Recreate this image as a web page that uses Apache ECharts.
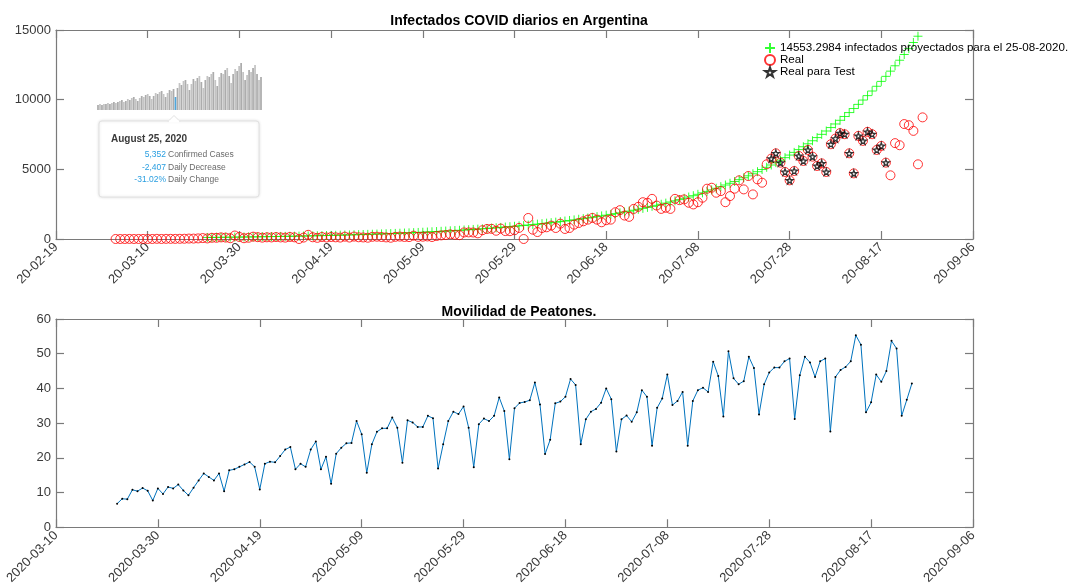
<!DOCTYPE html>
<html>
<head>
<meta charset="utf-8">
<script src="https://cdn.jsdelivr.net/npm/echarts@6/dist/echarts.min.js"></script>
<style>
  html, body { margin: 0; padding: 0; background: #fff; }
  #main { width: 1074px; height: 587px; }
</style>
</head>
<body>
<div id="main"></div>
<script>
// ---- datos ----
var topOrigin = '2020-02-19';
var bottomOrigin = '2020-03-10';

var projName = '14553.2984 infectados proyectados para el 25-08-2020.';
var projStart = '2020-03-23';
var projValues = [
    110, 114, 118, 122, 126, 130, 134, 138, 142, 147,
    152, 157, 162, 167, 172, 177, 183, 189, 195, 201,
    207, 214, 221, 228, 235, 242, 250, 258, 266, 275,
    284, 293, 302, 312, 322, 332, 343, 354, 365, 377,
    389, 401, 414, 427, 441, 455, 470, 485, 501, 517,
    534, 551, 569, 587, 606, 625, 645, 666, 687, 709,
    732, 755, 779, 804, 830, 857, 884, 912, 941, 971,
    1002, 1034, 1067, 1101, 1136, 1172, 1209, 1248, 1288, 1329,
    1372, 1416, 1461, 1508, 1556, 1606, 1657, 1710, 1765, 1821,
    1879, 1939, 2001, 2065, 2131, 2199, 2269, 2342, 2417, 2494,
    2574, 2656, 2741, 2829, 2920, 3013, 3109, 3208, 3311, 3417,
    3526, 3639, 3755, 3875, 3999, 4127, 4259, 4395, 4536, 4681,
    4831, 4986, 5146, 5311, 5481, 5656, 5837, 6024, 6217, 6416,
    6621, 6833, 7052, 7278, 7511, 7751, 7999, 8255, 8519, 8792,
    9073, 9363, 9663, 9972, 10291, 10620, 10960, 11311, 11673, 12047,
    12432, 12830, 13241, 13665, 14102, 14553
];

var realStart = '2020-03-03';
var realValues = [
    // marzo (3-31)
    1, 0, 1, 6, 1, 3, 5, 2, 2, 12, 3, 11, 11, 9, 14, 18, 31, 30, 43, 67,
    41, 86, 86, 115, 101, 55, 250, 146, 55,
    // abril
    88, 167, 132, 96, 121, 112, 140, 113, 98, 145, 119, 0, 101, 300, 124,
    82, 143, 109, 143, 119, 102, 167, 104, 172, 123, 111, 91, 158, 164, 144,
    // mayo
    114, 89, 155, 172, 146, 136, 240, 153, 165, 182, 143, 216, 258, 285, 333,
    302, 274, 470, 474, 467, 407, 631, 720, 730, 592, 747, 569, 561, 629, 795, 0,
    // junio
    1510, 670, 500, 790, 840, 960, 790, 1100, 720, 790, 1030, 1150, 1270, 1390, 1510,
    1390, 1200, 1350, 1390, 1920, 2070, 1680, 1590, 2160, 2310, 2640, 2600, 2880, 2400, 2160,
    // julio
    2240, 2160, 2880, 2790, 2840, 2600, 2480, 2640, 2960, 3610, 3680, 3320, 3440, 2640, 3080,
    3610, 4210, 3560, 4520, 3200, 4280, 4040, 5360, 5770, 6150, 5480, 4810, 4210, 4880, 5960, 5600,
    // agosto (1-26)
    6390, 5910, 5240, 5430, 4810, 6800, 7210, 7600, 7520, 6150, 4710, 7400, 7040,
    7690, 7520, 6390, 6680, 5480, 4570, 6880, 6730, 8250, 8170, 7760, 5360, 8730
];

// tramo usado para test
var testStart = '2020-07-24';
var testEnd = '2020-08-18';

var topTicks = { min: 0, max: 200, interval: 20 };
var topYTicks = { min: 0, max: 15000, interval: 5000 };

var mobStart = '2020-03-22';
var mobValues = [
    6.8, 8.2, 8.1, 10.8, 10.4, 11.3, 10.5, 7.7, 11.2, 9.6,
    11.6, 11.2, 12.3, 10.6, 9.2, 11.4, 13.5, 15.5, 14.5, 13.5,
    15.5, 10.4, 16.4, 16.7, 17.4, 18.1, 18.8, 17.4, 10.9, 18.3,
    18.9, 18.7, 20.5, 22.4, 23.1, 16.7, 18.3, 17.4, 22.4, 24.7,
    16.7, 20.3, 12.5, 21.2, 22.9, 24.2, 24.3, 30.6, 26.8, 15.7,
    23.9, 27.5, 28.5, 28.5, 31.6, 28.7, 18.6, 30.8, 30.2, 28.9,
    28.9, 32.1, 31.4, 16.9, 23.9, 30.6, 33.3, 32.6, 34.8, 28.7,
    17.3, 29.7, 31.3, 30.6, 32.1, 37.4, 33.5, 19.6, 34.3, 35.8,
    36.1, 36.6, 41.7, 35.4, 21.1, 25.2, 35.7, 36.2, 37.6, 42.7,
    41.0, 23.9, 31.1, 33.3, 34.1, 35.9, 40.0, 36.9, 21.8, 31.1,
    32.2, 30.4, 33.1, 39.5, 37.6, 23.5, 34.4, 37.1, 44.0, 35.2,
    36.4, 39.0, 23.5, 36.4, 39.5, 40.2, 39.0, 47.7, 43.6, 31.9,
    50.7, 42.9, 41.2, 42.1, 49.1, 45.9, 32.5, 41.2, 44.6, 46.0,
    46.0, 47.8, 48.6, 31.2, 43.8, 49.1, 47.5, 43.3, 47.8, 48.6,
    27.6, 43.3, 45.3, 46.2, 47.8, 55.3, 52.6, 33.1, 36.0, 44.0,
    41.9, 45.0, 53.7, 51.5, 32.1, 36.7, 41.4
];
var bottomTicks = { min: 0, max: 180, interval: 20 };
var bottomYTicks = { min: 0, max: 60, interval: 10 };

// recorte pegado (captura con barras y tooltip)
var insetBars = [
    5, 6, 5, 6, 6, 7, 6, 7, 8, 7, 8, 9, 10, 8, 9, 11, 10, 12, 13, 11,
    9, 12, 14, 13, 15, 16, 14, 11, 14, 17, 16, 18, 19, 16, 13, 17, 20, 19, 21,
    13,
    22, 27, 25, 29, 30, 26, 20, 26, 31, 29, 32, 34, 28, 22, 30, 34, 33, 36, 38, 30,
    24, 33, 37, 36, 40, 42, 34, 27, 36, 41, 39, 44, 47, 38, 30, 35, 40, 38, 42, 45,
    36, 30, 33
];
var insetHighlight = 39;
var insetDate = 'August 25, 2020';
var insetRows = [
    ['5,352', 'Confirmed Cases'],
    ['-2,407', 'Daily Decrease'],
    ['-31.02%', 'Daily Change']
];

// ---- helpers ----
var DAY = 864e5;
function dayOf(dateStr, origin) {
    return Math.round((Date.parse(dateStr) - Date.parse(origin)) / DAY);
}
function dateLabel(origin, d, shortYear) {
    var t = new Date(Date.parse(origin) + d * DAY);
    var y = String(t.getUTCFullYear());
    var m = ('0' + (t.getUTCMonth() + 1)).slice(-2);
    var dd = ('0' + t.getUTCDate()).slice(-2);
    return (shortYear ? y.slice(2) : y) + '-' + m + '-' + dd;
}
function toPoints(values, start, origin) {
    var d0 = dayOf(start, origin);
    return values.map(function (v, i) { return [d0 + i, v]; });
}

var realData = toPoints(realValues, realStart, topOrigin);
var t0 = dayOf(testStart, topOrigin), t1 = dayOf(testEnd, topOrigin);
var testData = realData.filter(function (p) { return p[0] >= t0 && p[0] <= t1; });
var projData = toPoints(projValues, projStart, topOrigin);
var mobData = toPoints(mobValues, mobStart, bottomOrigin);

var plusPath = 'path://M50,0 L50,100 M0,50 L100,50';
var starPath = 'path://M50,0 L61,35 L98,35 L68,57 L79,91 L50,70 L21,91 L32,57 L2,35 L39,35 Z';

var FONT = '"Liberation Sans", Arial, Helvetica, sans-serif';
var axisColor = '#7a7a7a';
var labelColor = '#3a3a3a';

function frameAxis(gridIndex, pos, scale, extra) {
    var ax = {
        type: 'value',
        gridIndex: gridIndex,
        position: pos,
        min: scale.min,
        max: scale.max,
        interval: scale.interval,
        axisLine: { show: true, onZero: false, lineStyle: { color: axisColor, width: 1.2 } },
        axisTick: { show: true, inside: true, length: 8, lineStyle: { color: axisColor, width: 1.2 } },
        axisLabel: { show: false },
        splitLine: { show: false }
    };
    for (var k in extra) ax[k] = extra[k];
    return ax;
}

var dom = document.getElementById('main');
var myChart = echarts.init(dom, null, { renderer: 'canvas' });

var option = {
    backgroundColor: '#FFFFFF',
    animation: false,
    textStyle: { fontFamily: FONT },
    title: [{
        text: 'Infectados COVID diarios en Argentina',
        left: 514, top: 9, textAlign: 'center',
        textStyle: { fontSize: 14, fontWeight: 'bold', color: '#000', fontFamily: FONT }
    }, {
        text: 'Movilidad de Peatones.',
        left: 514, top: 300, textAlign: 'center',
        textStyle: { fontSize: 14, fontWeight: 'bold', color: '#000', fontFamily: FONT }
    }],
    grid: [
        { left: 56, top: 30, width: 917, height: 209 },
        { left: 56, top: 319, width: 917, height: 211 },
        { left: 97, top: 62, width: 165, height: 48 }
    ],
    legend: {
        orient: 'vertical',
        left: 759, top: 37,
        itemGap: 0, itemWidth: 10, itemHeight: 10, itemTextGap: 9,
        textStyle: { fontSize: 11.6, color: '#000', lineHeight: 10.5, fontFamily: FONT },
        data: [
            { name: projName, icon: plusPath },
            { name: 'Real', icon: 'circle' },
            { name: 'Real para Test', icon: starPath }
        ]
    },
    xAxis: [
        frameAxis(0, 'bottom', topTicks, {
            axisLabel: {
                show: true, rotate: 45, margin: 6, fontSize: 13, color: labelColor,
                formatter: function (v) { return dateLabel(topOrigin, v, true); }
            }
        }),
        frameAxis(0, 'top', topTicks),
        frameAxis(1, 'bottom', bottomTicks, {
            axisLabel: {
                show: true, rotate: 45, margin: 6, fontSize: 13, color: labelColor,
                formatter: function (v) { return dateLabel(bottomOrigin, v, false); }
            }
        }),
        frameAxis(1, 'top', bottomTicks),
        {
            type: 'category', gridIndex: 2, show: false,
            data: insetBars.map(function (v, i) { return i; })
        }
    ],
    yAxis: [
        frameAxis(0, 'left', topYTicks, {
            axisLabel: { show: true, margin: 5, fontSize: 13, color: labelColor,
                formatter: function (v) { return String(v); } }
        }),
        frameAxis(0, 'right', topYTicks),
        frameAxis(1, 'left', bottomYTicks, {
            axisLabel: { show: true, margin: 5, fontSize: 13, color: labelColor,
                formatter: function (v) { return String(v); } }
        }),
        frameAxis(1, 'right', bottomYTicks),
        { type: 'value', gridIndex: 2, show: false, min: 0, max: 48 }
    ],
    series: [
        {
            name: projName, type: 'scatter', xAxisIndex: 0, yAxisIndex: 0,
            symbol: plusPath, symbolSize: 9,
            itemStyle: { color: 'rgba(0,0,0,0)', borderColor: '#00ff00', borderWidth: 1 },
            data: projData
        },
        {
            name: 'Real', type: 'scatter', xAxisIndex: 0, yAxisIndex: 0,
            symbol: 'circle', symbolSize: 9,
            itemStyle: { color: 'rgba(0,0,0,0)', borderColor: '#ff0000', borderWidth: 1 },
            data: realData
        },
        {
            name: 'Real para Test', type: 'scatter', xAxisIndex: 0, yAxisIndex: 0,
            symbol: starPath, symbolSize: 7,
            itemStyle: { color: 'rgba(0,0,0,0)', borderColor: '#000000', borderWidth: 1.2 },
            data: testData
        },
        {
            name: 'Movilidad', type: 'line', xAxisIndex: 2, yAxisIndex: 2,
            symbol: 'circle', symbolSize: 2, showSymbol: true,
            itemStyle: { color: '#000000' },
            lineStyle: { color: '#0072BD', width: 1 },
            data: mobData
        },
        {
            name: 'inset', type: 'bar', xAxisIndex: 4, yAxisIndex: 4,
            barCategoryGap: '12%',
            data: insetBars.map(function (v, i) {
                return { value: v, itemStyle: { color: i === insetHighlight ? '#4ea6dc' : (i % 2 ? '#c4c4c4' : '#acacac') } };
            })
        }
    ],
    graphic: [
        {
            type: 'group', z: 100,
            children: [
                {
                    type: 'rect',
                    shape: { x: 99, y: 121, width: 160, height: 76, r: 3 },
                    style: { fill: '#ffffff', stroke: '#e2e2e2', lineWidth: 1, shadowBlur: 3, shadowColor: 'rgba(0,0,0,0.12)' }
                },
                {
                    type: 'polygon',
                    shape: { points: [[168, 121.5], [174, 115.5], [180, 121.5]] },
                    style: { fill: '#ffffff', stroke: '#e2e2e2', lineWidth: 1 }
                },
                {
                    type: 'rect',
                    shape: { x: 168.7, y: 120.5, width: 10.6, height: 2 },
                    style: { fill: '#ffffff' }
                },
                {
                    type: 'text',
                    style: { text: insetDate, x: 111, y: 139, fill: '#3a3a3a', font: 'bold 10px ' + FONT, textVerticalAlign: 'middle' }
                }
            ].concat(insetRows.reduce(function (acc, r, i) {
                var y = 155 + i * 12.5;
                acc.push({ type: 'text', style: { text: r[0], x: 166, y: y, fill: '#2a9ee0', font: '8.5px ' + FONT, textAlign: 'right', textVerticalAlign: 'middle' } });
                acc.push({ type: 'text', style: { text: r[1], x: 168, y: y, fill: '#6a6a6a', font: '8.5px ' + FONT, textAlign: 'left', textVerticalAlign: 'middle' } });
                return acc;
            }, []))
        }
    ]
};

if (option && typeof option === 'object') {
    myChart.setOption(option);
}
</script>
</body>
</html>
